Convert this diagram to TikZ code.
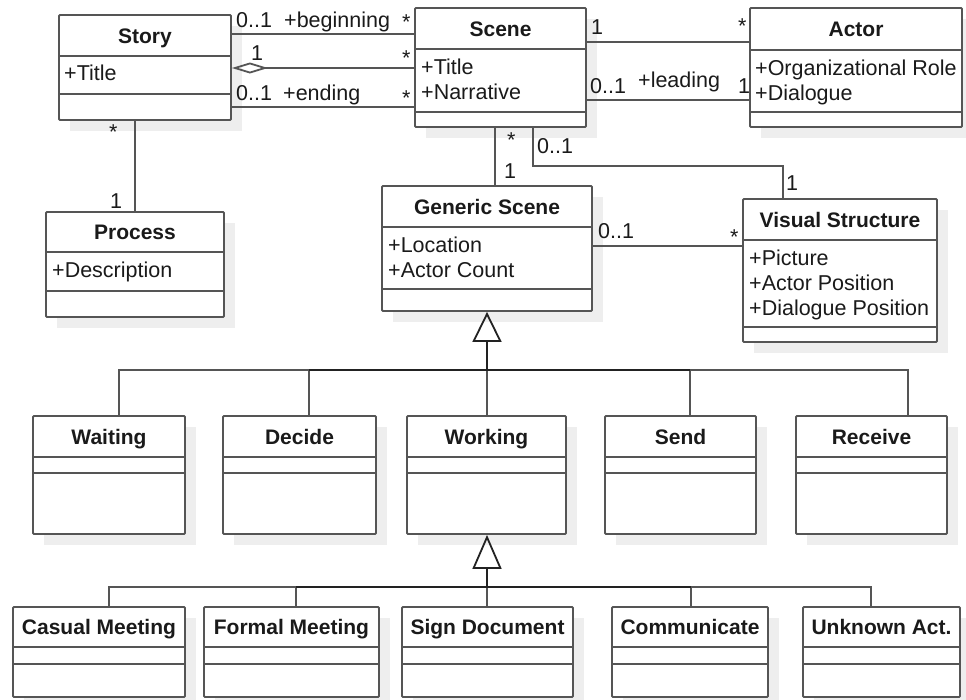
\documentclass[tikz,border=0pt]{standalone}
\usepackage{fontspec}
\setmainfont{Liberation Sans}
\usetikzlibrary{fit,arrows.meta}
\definecolor{linec}{HTML}{555555}
\definecolor{darkc}{HTML}{222222}
\definecolor{shadc}{HTML}{EEEEEE}
\definecolor{txtc}{HTML}{1A1A1A}
\tikzset{
  cls/.style={draw=linec, line width=1.8pt, fill=white, inner sep=0pt, rounded corners=1pt},
  conn/.style={draw=linec, line width=1.8pt},
  ttl/.style={font=\fontsize{21}{25}\selectfont\bfseries, text=txtc, inner sep=0pt, anchor=base},
  attr/.style={font=\fontsize{21.5}{25}\selectfont, text=txtc, inner sep=0pt, anchor=base west},
  mult/.style={font=\fontsize{21.5}{25}\selectfont, text=txtc, inner sep=0pt, anchor=base west},
}
% name, left, top, right, bottom, header line, divider line, title
\newcommand\umlclass[8]{%
  \fill[shadc] (#2+11,#3+11) rectangle (#4+11,#5+11);
  \coordinate (#1-nw) at (#2,#3);
  \coordinate (#1-se) at (#4,#5);
  \node[cls, fit=(#1-nw)(#1-se)] (#1) {};
  \draw[conn] (#1.west |- 0,#6) -- (#1.east |- 0,#6);
  \draw[conn] (#1.west |- 0,#7) -- (#1.east |- 0,#7);
  \node[ttl] (#1-t) at ({(#2+#4)/2},{(#3+#6)/2+7.5}) {#8};
}
\begin{document}
\begin{tikzpicture}[x=1pt,y=-1pt]
\useasboundingbox (0,0) rectangle (966,699);
\fill[white] (0,0) rectangle (966,699);

% ---- classes ----
\umlclass{story}{59}{15}{231}{120}{56}{94}{Story}
\node[attr] (story-a1) at (64,80) {+Title};

\umlclass{scene}{415}{8}{586}{127}{49}{112}{Scene}
\node[attr] (scene-a1) at (421,74) {+Title};
\node[attr] (scene-a2) at (421,99) {+Narrative};

\umlclass{actor}{750}{8}{962}{127}{50}{112}{Actor}
\node[attr] (actor-a1) at (755,75) {+Organizational Role};
\node[attr] (actor-a2) at (755,100) {+Dialogue};

\umlclass{process}{46}{212}{224}{317}{252}{291}{Process}
\node[attr] (process-a1) at (52,277) {+Description};

\umlclass{generic}{382}{186}{592}{311}{227}{289}{Generic Scene}
\node[attr] (generic-a1) at (388,252) {+Location};
\node[attr] (generic-a2) at (388,277) {+Actor Count};

\umlclass{visual}{743}{199}{937}{342}{240}{327}{Visual Structure}
\node[attr] (visual-a1) at (749,265) {+Picture};
\node[attr] (visual-a2) at (749,290) {+Actor Position};
\node[attr] (visual-a3) at (749,315) {+Dialogue Position};

\umlclass{waiting}{33}{416}{185}{534}{457}{473}{Waiting}
\umlclass{decide}{223}{416}{376}{534}{457}{473}{Decide}
\umlclass{working}{407}{416}{566}{534}{457}{473}{Working}
\umlclass{send}{605}{416}{756}{534}{457}{473}{Send}
\umlclass{receive}{796}{416}{947}{534}{457}{473}{Receive}

\umlclass{casual}{13}{607}{185}{697}{647}{664}{Casual Meeting}
\umlclass{formal}{204}{607}{379}{697}{647}{664}{Formal Meeting}
\umlclass{sign}{402}{607}{573}{697}{647}{664}{Sign Document}
\umlclass{communicate}{612}{607}{768}{697}{647}{664}{Communicate}
\umlclass{unknown}{803}{607}{960}{697}{647}{664}{Unknown Act.}

% ---- associations ----
\draw[conn] (story.east |- 0,34) -- (scene.west |- 0,34);
\draw[conn, -{Diamond[open, length=36pt, width=11pt]}] (scene.west |- 0,68) -- (story.east |- 0,68);
\draw[conn] (story.east |- 0,107) -- (scene.west |- 0,107);
\draw[conn] (story.south -| 135,0) -- (process.north -| 135,0);
\draw[conn] (scene.east |- 0,42) -- (actor.west |- 0,42);
\draw[conn] (scene.east |- 0,100) -- (actor.west |- 0,100);
\draw[conn] (scene.south -| 495,0) -- (generic.north -| 495,0);
\coordinate (sv1) at (533,166);
\coordinate (sv2) at (783,166);
\draw[conn] (scene.south -| sv1) -- (sv1) -- (sv2) -- (visual.north -| sv2);
\draw[conn] (generic.east |- 0,246) -- (visual.west |- 0,246);

% ---- multiplicities / roles ----
\node[mult] (m1) at (236,27) {0..1};
\node[mult] (m2) at (284,27) {+beginning};
\node[mult] (m3) at (402,29) {*};
\node[mult] (m4) at (251,60) {1};
\node[mult] (m5) at (402,65) {*};
\node[mult] (m6) at (236,100) {0..1};
\node[mult] (m7) at (283,100) {+ending};
\node[mult] (m8) at (402,105) {*};
\node[mult] (m9) at (109,139) {*};
\node[mult] (m10) at (110,208) {1};
\node[mult] (m11) at (591,34) {1};
\node[mult] (m12) at (738,33) {*};
\node[mult] (m13) at (590,93) {0..1};
\node[mult] (m14) at (638,87) {+leading};
\node[mult] (m15) at (738,93) {1};
\node[mult] (m16) at (507,147) {*};
\node[mult] (m17) at (504,178) {1};
\node[mult] (m18) at (537,153) {0..1};
\node[mult] (m19) at (786,190) {1};
\node[mult] (m20) at (598,238) {0..1};
\node[mult] (m21) at (730,244) {*};

% ---- generalization 1 ----
\coordinate (g1) at (487,370);
\coordinate (g1L) at (119,370);
\coordinate (g1R) at (908,370);
\draw[conn] (waiting.north -| g1L) -- (g1L) -- (g1R) -- (receive.north -| g1R);
\draw[conn] (decide.north -| 309,0) -- (309,370);
\draw[conn] (send.north -| 690,0) -- (690,370);
\draw[conn] (working.north -| g1) -- (g1);
\draw[conn, draw=darkc] (309,370) -- (690,370);
\draw[conn, draw=darkc, -{Triangle[open, length=30pt, width=29pt]}] (g1) -- (generic.south -| g1);

% ---- generalization 2 ----
\coordinate (g2) at (487,587);
\coordinate (g2L) at (109,587);
\coordinate (g2R) at (871,587);
\draw[conn] (casual.north -| g2L) -- (g2L) -- (g2R) -- (unknown.north -| g2R);
\draw[conn] (formal.north -| 296,0) -- (296,587);
\draw[conn] (communicate.north -| 691,0) -- (691,587);
\draw[conn] (sign.north -| g2) -- (g2);
\draw[conn, draw=darkc] (296,587) -- (691,587);
\draw[conn, draw=darkc, -{Triangle[open, length=34pt, width=29pt]}] (g2) -- (working.south -| g2);
\end{tikzpicture}
\end{document}
